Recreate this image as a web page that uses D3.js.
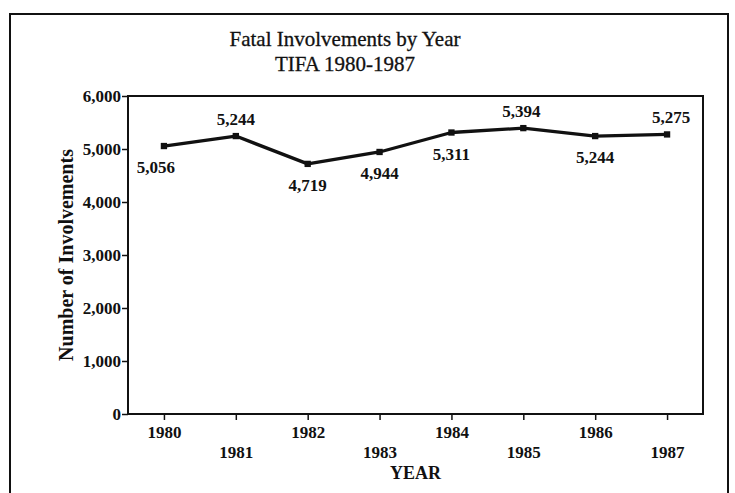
<!DOCTYPE html>
<html>
<head>
<meta charset="utf-8">
<script src="https://cdn.jsdelivr.net/npm/d3@7/dist/d3.min.js"></script>
<style>
  body { margin: 0; background: #fff; }
  text { font-family: "Liberation Serif", "Times New Roman", serif; fill: #111; }
</style>
</head>
<body>
<script>
// Data
var years = [1980, 1981, 1982, 1983, 1984, 1985, 1986, 1987];
var involvements = [5056, 5244, 4719, 4944, 5311, 5394, 5244, 5275];
var yTicks = [0, 1000, 2000, 3000, 4000, 5000, 6000];
var titleLines = ["Fatal Involvements by Year", "TIFA 1980-1987"];

// where each value label sits relative to its point
var labelSide = ["below", "above", "below", "below", "below", "above", "below", "above"];
var labelNudge = [-8, 0, 0, 0, 0, -2, 0, 4];

var W = 735, H = 493;
var margin = {top: 96, right: 32, bottom: 79, left: 128},
    width = W - margin.left - margin.right,
    height = H - margin.top - margin.bottom;

var svg = d3.select("body").append("svg")
    .attr("width", W)
    .attr("height", H);

// outer frame (open at the bottom edge)
svg.append("path")
    .attr("d", "M10," + H + "V14H728V" + H)
    .attr("fill", "none")
    .attr("stroke", "#111")
    .attr("stroke-width", 2);

// title
svg.selectAll(".title")
    .data(titleLines)
    .enter().append("text")
    .attr("class", "title")
    .attr("x", 345)
    .attr("y", function(d, i) { return 46 + i * 25; })
    .attr("text-anchor", "middle")
    .style("font-size", "21px")
    .style("stroke", "#111")
    .style("stroke-width", 0.3)
    .text(function(d) { return d; });

var g = svg.append("g")
    .attr("transform", "translate(" + margin.left + "," + margin.top + ")");

var x = d3.scalePoint()
    .domain(years)
    .range([0, width])
    .padding(0.5);

var y = d3.scaleLinear()
    .domain([0, 6000])
    .range([height, 0]);

// plot box
g.append("rect")
    .attr("width", width)
    .attr("height", height)
    .attr("fill", "none")
    .attr("stroke", "#111")
    .attr("stroke-width", 2);

// y axis
var yAxis = g.append("g")
    .call(d3.axisLeft(y).tickValues(yTicks).tickSize(6).tickPadding(1)
      .tickFormat(d3.format(",")));
yAxis.select(".domain").remove();
yAxis.selectAll("line").attr("stroke", "#111").attr("stroke-width", 1.5);
yAxis.selectAll("text")
    .style("font-size", "17px")
    .style("font-weight", "bold")
    .attr("font-family", null);

// x axis, labels staggered on two rows
var xAxis = g.append("g")
    .attr("transform", "translate(0," + height + ")")
    .call(d3.axisBottom(x).tickSize(6).tickFormat(d3.format("d")));
xAxis.select(".domain").remove();
xAxis.selectAll("line").attr("stroke", "#111").attr("stroke-width", 1.5);
xAxis.selectAll("text")
    .attr("y", function(d, i) { return i % 2 ? 44 : 24; })
    .attr("dy", null)
    .style("font-size", "17px")
    .style("font-weight", "bold")
    .attr("font-family", null);

// axis titles
g.append("text")
    .attr("x", width / 2)
    .attr("y", height + 65)
    .attr("text-anchor", "middle")
    .style("font-size", "18px")
    .style("font-weight", "bold")
    .text("YEAR");

g.append("text")
    .attr("transform", "translate(-55," + (height / 2) + ") rotate(-90)")
    .attr("text-anchor", "middle")
    .style("font-size", "20px")
    .style("font-weight", "bold")
    .text("Number of Involvements");

// line
var line = d3.line()
    .x(function(d, i) { return x(years[i]); })
    .y(function(d) { return y(d); });

g.append("path")
    .datum(involvements)
    .attr("d", line)
    .attr("fill", "none")
    .attr("stroke", "#111")
    .attr("stroke-width", 3.3)
    .attr("stroke-linejoin", "round");

// markers
g.selectAll(".marker")
    .data(involvements)
    .enter().append("path")
    .attr("class", "marker")
    .attr("transform", function(d, i) { return "translate(" + x(years[i]) + "," + y(d) + ")"; })
    .attr("d", d3.symbol().type(d3.symbolSquare).size(40))
    .attr("fill", "#111");

// value labels
g.selectAll(".value")
    .data(involvements)
    .enter().append("text")
    .attr("class", "value")
    .attr("x", function(d, i) { return x(years[i]) + labelNudge[i]; })
    .attr("y", function(d, i) { return y(d) + (labelSide[i] === "above" ? -11 : 27); })
    .attr("text-anchor", "middle")
    .style("font-size", "17px")
    .style("font-weight", "bold")
    .text(function(d) { return d3.format(",")(d); });
</script>
</body>
</html>
